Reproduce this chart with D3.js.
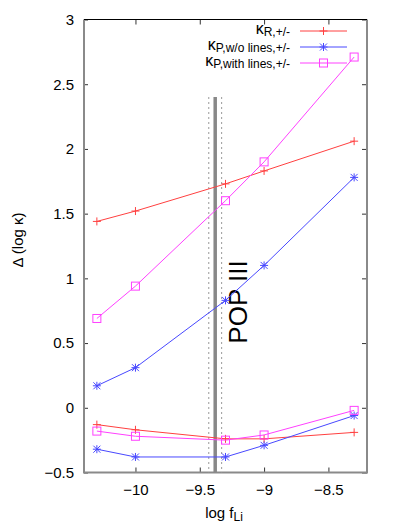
<!DOCTYPE html>
<html>
<head>
<meta charset="utf-8">
<script src="https://cdn.jsdelivr.net/npm/d3@7"></script>
<style>
  body { margin: 0; background: #fff; }
  svg { font-family: "Liberation Sans", Arial, sans-serif; }
</style>
</head>
<body>
<svg id="chart" width="395" height="524"></svg>
<script>
// log f_Li values
const logF = [-10.3, -10, -9.3, -9, -8.3];

// upper branch (+)
const kapR_plus = [1.44, 1.52, 1.73, 1.83, 2.06];
const kapPnoLines_plus = [0.17, 0.31, 0.83, 1.10, 1.78];
const kapPlines_plus = [0.69, 0.94, 1.60, 1.90, 2.71];

// lower branch (-)
const kapR_minus = [-0.13, -0.17, -0.24, -0.24, -0.19];
const kapPnoLines_minus = [-0.32, -0.38, -0.38, -0.29, -0.06];
const kapPlines_minus = [-0.18, -0.22, -0.25, -0.21, -0.02];

const xTicks = [-10, -9.5, -9, -8.5];
const yTicks = [-0.5, 0, 0.5, 1, 1.5, 2, 2.5, 3];

// POP III marker and its band
const popIII = -9.38;
const popBand = [-9.43, -9.33];

const margin = { top: 19.5, right: 28, bottom: 51.5, left: 84 };
const W = 395, H = 524;

const svg = d3.select("#chart");

const x = d3.scaleLinear().domain([-10.4, -8.2]).range([margin.left, W - margin.right]);
const y = d3.scaleLinear().domain([-0.5, 3]).range([H - margin.bottom, margin.top]);

const series = [
  { name: "R", color: "#ff4040", marker: "plus", plus: kapR_plus, minus: kapR_minus },
  { name: "Pno", color: "#4848ff", marker: "star", plus: kapPnoLines_plus, minus: kapPnoLines_minus },
  { name: "Pl", color: "#ff40ff", marker: "square", plus: kapPlines_plus, minus: kapPlines_minus }
];

// axes (inward ticks, mirrored)
const tickFont = "15px";
svg.append("g")
  .attr("transform", `translate(0,${y(-0.5)})`)
  .call(d3.axisBottom(x).tickValues(xTicks).tickFormat(d3.format("")).tickSize(-5).tickSizeOuter(0).tickPadding(12))
  .call(g => g.select(".domain").remove())
  .call(g => g.selectAll("text").style("font-size", tickFont).attr("fill", "#000"));

svg.append("g")
  .attr("transform", `translate(0,${y(3)})`)
  .call(d3.axisTop(x).tickValues(xTicks).tickFormat("").tickSize(-5).tickSizeOuter(0))
  .call(g => g.select(".domain").remove());

svg.append("g")
  .attr("transform", `translate(${x(-10.4)},0)`)
  .call(d3.axisLeft(y).tickValues(yTicks).tickFormat(d3.format("")).tickSize(-4).tickSizeOuter(0).tickPadding(10))
  .call(g => g.select(".domain").remove())
  .call(g => g.selectAll("text").style("font-size", tickFont).attr("fill", "#000"));

svg.append("g")
  .attr("transform", `translate(${x(-8.2)},0)`)
  .call(d3.axisRight(y).tickValues(yTicks).tickFormat("").tickSize(-5).tickSizeOuter(0))
  .call(g => g.select(".domain").remove());

svg.selectAll(".tick line").attr("stroke", "#333");

// frame
const x0 = x(-10.4), x1 = x(-8.2), y0 = y(-0.5), y1 = y(3);
svg.append("path")
  .attr("d", `M${x0},${y1}V${y0}H${x1}V${y1}`)
  .attr("fill", "none").attr("stroke", "#8a8a8a").attr("stroke-width", 2);
svg.append("line")
  .attr("x1", x0).attr("x2", x1).attr("y1", y1).attr("y2", y1)
  .attr("stroke", "#000").attr("stroke-width", 1);

// POP III lines
popBand.forEach(v => {
  svg.append("line")
    .attr("x1", x(v)).attr("x2", x(v)).attr("y1", 97).attr("y2", y0)
    .attr("stroke", "#999").attr("stroke-width", 1).attr("stroke-dasharray", "2,3");
});
svg.append("line")
  .attr("x1", x(popIII)).attr("x2", x(popIII)).attr("y1", 97).attr("y2", y0)
  .attr("stroke", "#888").attr("stroke-width", 3.5);

svg.append("text")
  .attr("transform", `translate(${x(popIII) + 32},302) rotate(-90)`)
  .attr("text-anchor", "middle")
  .style("font-size", "26px")
  .text("POP III");

// markers
function drawMarker(g, type, cx, cy, color) {
  if (type === "plus") {
    g.append("path").attr("d", `M${cx - 4},${cy}H${cx + 4}M${cx},${cy - 4}V${cy + 4}`)
      .attr("stroke", color).attr("stroke-width", 1).attr("fill", "none");
  } else if (type === "star") {
    g.append("path").attr("d", `M${cx - 4},${cy}H${cx + 4}M${cx},${cy - 4}V${cy + 4}M${cx - 3.5},${cy - 3.5}L${cx + 3.5},${cy + 3.5}M${cx - 3.5},${cy + 3.5}L${cx + 3.5},${cy - 3.5}`)
      .attr("stroke", color).attr("stroke-width", 1).attr("fill", "none");
  } else {
    g.append("rect").attr("x", cx - 4).attr("y", cy - 4).attr("width", 8).attr("height", 8)
      .attr("stroke", color).attr("stroke-width", 1).attr("fill", "none");
  }
}

const line = d3.line().x(d => x(d[0])).y(d => y(d[1]));
const plot = svg.append("g");
series.forEach(s => {
  [s.plus, s.minus].forEach(vals => {
    const pts = logF.map((f, i) => [f, vals[i]]);
    plot.append("path").datum(pts).attr("d", line)
      .attr("fill", "none").attr("stroke", s.color).attr("stroke-width", 1);
    pts.forEach(p => drawMarker(plot, s.marker, x(p[0]), y(p[1]), s.color));
  });
});

// legend
const legendRows = [
  { sub: "R,+/-", s: series[0], y: 31 },
  { sub: "P,w/o lines,+/-", s: series[1], y: 47 },
  { sub: "P,with lines,+/-", s: series[2], y: 63 }
];
legendRows.forEach(r => {
  const t = svg.append("text").attr("x", 290).attr("y", r.y + 3).attr("text-anchor", "end");
  t.append("tspan").style("font-size", "16px").text("κ");
  t.append("tspan").style("font-size", "12px").attr("dy", 2).text(r.sub);
  svg.append("line").attr("x1", 300).attr("x2", 347).attr("y1", r.y).attr("y2", r.y)
    .attr("stroke", r.s.color).attr("stroke-width", 1);
  drawMarker(svg, r.s.marker, 323.5, r.y, r.s.color);
});

// axis labels
const xl = svg.append("text").attr("x", 224).attr("y", 518).attr("text-anchor", "middle").style("font-size", "15px");
xl.append("tspan").text("log f");
xl.append("tspan").style("font-size", "12px").attr("dy", 3).text("Li");

svg.append("text")
  .attr("transform", "translate(23,240) rotate(-90)")
  .attr("text-anchor", "middle")
  .style("font-size", "15px")
  .text("Δ (log κ)");
</script>
</body>
</html>
